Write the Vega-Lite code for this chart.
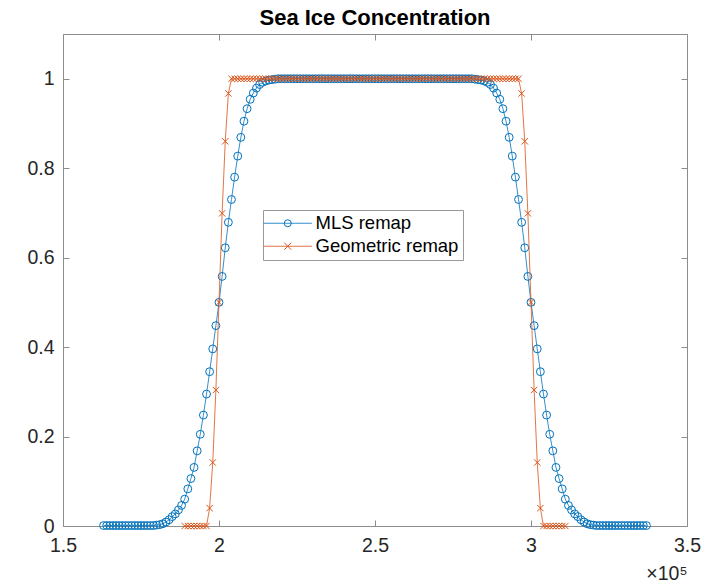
{
"$schema":"https://vega.github.io/schema/vega-lite/v6.json",
"width":624,"height":492,"autosize":"none",
"padding":{"left":63,"top":34,"right":26,"bottom":58},
"background":"white",
"config":{"view":{"stroke":"#8c8c8c","strokeWidth":1},"font":"Liberation Sans, DejaVu Sans"},
"title":{"text":"Sea Ice Concentration","fontSize":22,"fontWeight":"bold","color":"#000000","offset":4,"anchor":"middle"},
"data":{"values":[
{"x":163000,"MLS remap":0.001},{"x":164000,"MLS remap":0.001},{"x":165000,"MLS remap":0.001},{"x":166000,"MLS remap":0.001},{"x":167000,"MLS remap":0.001},{"x":168000,"MLS remap":0.001},{"x":169000,"MLS remap":0.001},{"x":170000,"MLS remap":0.001},{"x":171000,"MLS remap":0.001},{"x":172000,"MLS remap":0.001},{"x":173000,"MLS remap":0.001},{"x":174000,"MLS remap":0.001},{"x":175000,"MLS remap":0.001},{"x":176000,"MLS remap":0.001},{"x":177000,"MLS remap":0.001},{"x":178000,"MLS remap":0.001},{"x":179000,"MLS remap":0.001},
{"x":180000,"MLS remap":0.002},{"x":181000,"MLS remap":0.003},{"x":182000,"MLS remap":0.005},{"x":183000,"MLS remap":0.009},{"x":184000,"MLS remap":0.014},{"x":185000,"MLS remap":0.021},{"x":186000,"MLS remap":0.027},{"x":187000,"MLS remap":0.036},{"x":188000,"MLS remap":0.046},
{"x":189000,"MLS remap":0.06,"Geometric remap":0},{"x":190000,"MLS remap":0.083,"Geometric remap":0},{"x":191000,"MLS remap":0.106,"Geometric remap":0},{"x":192000,"MLS remap":0.131,"Geometric remap":0},{"x":193000,"MLS remap":0.168,"Geometric remap":0},{"x":194000,"MLS remap":0.205,"Geometric remap":0},{"x":195000,"MLS remap":0.248,"Geometric remap":0},{"x":196000,"MLS remap":0.295,"Geometric remap":0},
{"x":197000,"MLS remap":0.345,"Geometric remap":0.04},{"x":198000,"MLS remap":0.396,"Geometric remap":0.142},{"x":199000,"MLS remap":0.448,"Geometric remap":0.304},{"x":200000,"MLS remap":0.5,"Geometric remap":0.5},{"x":201000,"MLS remap":0.558,"Geometric remap":0.699},{"x":202000,"MLS remap":0.622,"Geometric remap":0.86},{"x":203000,"MLS remap":0.679,"Geometric remap":0.967},
{"x":204000,"MLS remap":0.73,"Geometric remap":1},{"x":205000,"MLS remap":0.78,"Geometric remap":1},{"x":206000,"MLS remap":0.827,"Geometric remap":1},{"x":207000,"MLS remap":0.869,"Geometric remap":1},{"x":208000,"MLS remap":0.905,"Geometric remap":1},{"x":209000,"MLS remap":0.933,"Geometric remap":1},{"x":210000,"MLS remap":0.954,"Geometric remap":1},{"x":211000,"MLS remap":0.968,"Geometric remap":1},{"x":212000,"MLS remap":0.979,"Geometric remap":1},{"x":213000,"MLS remap":0.987,"Geometric remap":1},{"x":214000,"MLS remap":0.992,"Geometric remap":1},{"x":215000,"MLS remap":0.995,"Geometric remap":1},{"x":216000,"MLS remap":0.997,"Geometric remap":1},{"x":217000,"MLS remap":0.998,"Geometric remap":1},{"x":218000,"MLS remap":0.999,"Geometric remap":1},
{"x":219000,"MLS remap":1,"Geometric remap":1},{"x":220000,"MLS remap":1,"Geometric remap":1},{"x":221000,"MLS remap":1,"Geometric remap":1},{"x":222000,"MLS remap":1,"Geometric remap":1},{"x":223000,"MLS remap":1,"Geometric remap":1},{"x":224000,"MLS remap":1,"Geometric remap":1},{"x":225000,"MLS remap":1,"Geometric remap":1},{"x":226000,"MLS remap":1,"Geometric remap":1},{"x":227000,"MLS remap":1,"Geometric remap":1},{"x":228000,"MLS remap":1,"Geometric remap":1},{"x":229000,"MLS remap":1,"Geometric remap":1},{"x":230000,"MLS remap":1,"Geometric remap":1},{"x":231000,"MLS remap":1,"Geometric remap":1},{"x":232000,"MLS remap":1,"Geometric remap":1},{"x":233000,"MLS remap":1,"Geometric remap":1},{"x":234000,"MLS remap":1,"Geometric remap":1},{"x":235000,"MLS remap":1,"Geometric remap":1},{"x":236000,"MLS remap":1,"Geometric remap":1},{"x":237000,"MLS remap":1,"Geometric remap":1},{"x":238000,"MLS remap":1,"Geometric remap":1},{"x":239000,"MLS remap":1,"Geometric remap":1},{"x":240000,"MLS remap":1,"Geometric remap":1},{"x":241000,"MLS remap":1,"Geometric remap":1},{"x":242000,"MLS remap":1,"Geometric remap":1},{"x":243000,"MLS remap":1,"Geometric remap":1},{"x":244000,"MLS remap":1,"Geometric remap":1},{"x":245000,"MLS remap":1,"Geometric remap":1},{"x":246000,"MLS remap":1,"Geometric remap":1},{"x":247000,"MLS remap":1,"Geometric remap":1},{"x":248000,"MLS remap":1,"Geometric remap":1},{"x":249000,"MLS remap":1,"Geometric remap":1},{"x":250000,"MLS remap":1,"Geometric remap":1},{"x":251000,"MLS remap":1,"Geometric remap":1},{"x":252000,"MLS remap":1,"Geometric remap":1},{"x":253000,"MLS remap":1,"Geometric remap":1},{"x":254000,"MLS remap":1,"Geometric remap":1},{"x":255000,"MLS remap":1,"Geometric remap":1},{"x":256000,"MLS remap":1,"Geometric remap":1},{"x":257000,"MLS remap":1,"Geometric remap":1},{"x":258000,"MLS remap":1,"Geometric remap":1},{"x":259000,"MLS remap":1,"Geometric remap":1},{"x":260000,"MLS remap":1,"Geometric remap":1},{"x":261000,"MLS remap":1,"Geometric remap":1},{"x":262000,"MLS remap":1,"Geometric remap":1},{"x":263000,"MLS remap":1,"Geometric remap":1},{"x":264000,"MLS remap":1,"Geometric remap":1},{"x":265000,"MLS remap":1,"Geometric remap":1},{"x":266000,"MLS remap":1,"Geometric remap":1},{"x":267000,"MLS remap":1,"Geometric remap":1},{"x":268000,"MLS remap":1,"Geometric remap":1},{"x":269000,"MLS remap":1,"Geometric remap":1},{"x":270000,"MLS remap":1,"Geometric remap":1},{"x":271000,"MLS remap":1,"Geometric remap":1},{"x":272000,"MLS remap":1,"Geometric remap":1},{"x":273000,"MLS remap":1,"Geometric remap":1},{"x":274000,"MLS remap":1,"Geometric remap":1},{"x":275000,"MLS remap":1,"Geometric remap":1},{"x":276000,"MLS remap":1,"Geometric remap":1},{"x":277000,"MLS remap":1,"Geometric remap":1},{"x":278000,"MLS remap":1,"Geometric remap":1},{"x":279000,"MLS remap":1,"Geometric remap":1},{"x":280000,"MLS remap":1,"Geometric remap":1},{"x":281000,"MLS remap":1,"Geometric remap":1},
{"x":282000,"MLS remap":0.999,"Geometric remap":1},{"x":283000,"MLS remap":0.998,"Geometric remap":1},{"x":284000,"MLS remap":0.997,"Geometric remap":1},{"x":285000,"MLS remap":0.995,"Geometric remap":1},{"x":286000,"MLS remap":0.992,"Geometric remap":1},{"x":287000,"MLS remap":0.987,"Geometric remap":1},{"x":288000,"MLS remap":0.979,"Geometric remap":1},{"x":289000,"MLS remap":0.968,"Geometric remap":1},{"x":290000,"MLS remap":0.954,"Geometric remap":1},{"x":291000,"MLS remap":0.933,"Geometric remap":1},{"x":292000,"MLS remap":0.905,"Geometric remap":1},{"x":293000,"MLS remap":0.869,"Geometric remap":1},{"x":294000,"MLS remap":0.827,"Geometric remap":1},{"x":295000,"MLS remap":0.78,"Geometric remap":1},{"x":296000,"MLS remap":0.73,"Geometric remap":1},
{"x":297000,"MLS remap":0.679,"Geometric remap":0.967},{"x":298000,"MLS remap":0.622,"Geometric remap":0.86},{"x":299000,"MLS remap":0.558,"Geometric remap":0.699},{"x":300000,"MLS remap":0.5,"Geometric remap":0.5},{"x":301000,"MLS remap":0.448,"Geometric remap":0.304},{"x":302000,"MLS remap":0.396,"Geometric remap":0.142},{"x":303000,"MLS remap":0.345,"Geometric remap":0.04},
{"x":304000,"MLS remap":0.295,"Geometric remap":0},{"x":305000,"MLS remap":0.248,"Geometric remap":0},{"x":306000,"MLS remap":0.205,"Geometric remap":0},{"x":307000,"MLS remap":0.168,"Geometric remap":0},{"x":308000,"MLS remap":0.131,"Geometric remap":0},{"x":309000,"MLS remap":0.106,"Geometric remap":0},{"x":310000,"MLS remap":0.083,"Geometric remap":0},{"x":311000,"MLS remap":0.06,"Geometric remap":0},
{"x":312000,"MLS remap":0.046},{"x":313000,"MLS remap":0.036},{"x":314000,"MLS remap":0.027},{"x":315000,"MLS remap":0.021},{"x":316000,"MLS remap":0.014},{"x":317000,"MLS remap":0.009},{"x":318000,"MLS remap":0.005},{"x":319000,"MLS remap":0.003},{"x":320000,"MLS remap":0.002},
{"x":321000,"MLS remap":0.001},{"x":322000,"MLS remap":0.001},{"x":323000,"MLS remap":0.001},{"x":324000,"MLS remap":0.001},{"x":325000,"MLS remap":0.001},{"x":326000,"MLS remap":0.001},{"x":327000,"MLS remap":0.001},{"x":328000,"MLS remap":0.001},{"x":329000,"MLS remap":0.001},{"x":330000,"MLS remap":0.001},{"x":331000,"MLS remap":0.001},{"x":332000,"MLS remap":0.001},{"x":333000,"MLS remap":0.001},{"x":334000,"MLS remap":0.001},{"x":335000,"MLS remap":0.001},{"x":336000,"MLS remap":0.001},{"x":337000,"MLS remap":0.001}
]},
"transform":[{"fold":["MLS remap","Geometric remap"],"as":["series","y"]},{"filter":"isValid(datum.y)"}],
"layer":[
{"transform":[{"filter":"datum.series === 'MLS remap'"}],
 "mark":{"type":"line","strokeWidth":0.8},
 "encoding":{
  "x":{"field":"x","type":"quantitative","scale":{"domain":[150000,350000],"nice":false,"zero":false},
   "axis":{"orient":"bottom","offset":-6,"domain":false,"grid":false,"values":[150000,200000,250000,300000,350000],"tickSize":6,"tickColor":"#8c8c8c","tickWidth":1,"labelExpr":"format(datum.value/100000,'~g')","labelFontSize":19.5,"labelColor":"#262626","labelPadding":10,"labelFlush":false,"labelOverlap":false,"title":"×10⁵","titleFontSize":19.5,"titleFontWeight":"normal","titleColor":"#262626","titleX":624,"titleY":59,"titleAlign":"right","titleBaseline":"alphabetic"}},
  "y":{"field":"y","type":"quantitative","scale":{"domain":[0,1.1],"nice":false,"zero":false},
   "axis":{"orient":"left","offset":-6,"domain":false,"grid":false,"values":[0,0.2,0.4,0.6,0.8,1],"tickSize":6,"tickColor":"#8c8c8c","tickWidth":1,"format":"~g","labelFontSize":19.5,"labelColor":"#262626","labelPadding":9,"labelFlush":false,"labelOverlap":false,"title":null}},
  "color":{"field":"series","type":"nominal","scale":{"domain":["MLS remap","Geometric remap"],"range":["#0072BD","#D95319"]},
   "legend":{"orient":"none","legendX":200,"legendY":176,"title":null,"strokeColor":"#999999","padding":4,"labelFontSize":18.5,"labelColor":"#000000","symbolType":"M-6.9,0H6.9","symbolSize":49,"symbolStrokeWidth":0.8,"rowPadding":4,"symbolOffset":11.5,"labelOffset":18.5}}
 }},
{"transform":[{"filter":"datum.series === 'MLS remap'"}],
 "mark":{"type":"point","filled":false,"size":62,"strokeWidth":1,"opacity":1},
 "encoding":{
  "x":{"field":"x","type":"quantitative","scale":{"domain":[150000,350000],"nice":false,"zero":false},"axis":null},
  "y":{"field":"y","type":"quantitative","scale":{"domain":[0,1.1],"nice":false,"zero":false},"axis":null},
  "color":{"field":"series","type":"nominal","scale":{"domain":["MLS remap","Geometric remap"],"range":["#0072BD","#D95319"]},
   "legend":{"orient":"none","legendX":200,"legendY":176,"title":null,"padding":4,"labelFontSize":18.5,"labelColor":"#000000","labelOpacity":0,"symbolSize":49,"symbolStrokeWidth":1,"rowPadding":4,"symbolOffset":11.5,"labelOffset":18.5}},
  "shape":{"field":"series","type":"nominal","scale":{"domain":["MLS remap","Geometric remap"],"range":["circle","M-1,-1L1,1M-1,1L1,-1"]},
   "legend":{"orient":"none","legendX":200,"legendY":176,"title":null,"padding":4,"labelFontSize":18.5,"labelColor":"#000000","labelOpacity":0,"symbolSize":49,"symbolStrokeWidth":1,"rowPadding":4,"symbolOffset":11.5,"labelOffset":18.5}}
 }},
{"transform":[{"filter":"datum.series === 'Geometric remap'"}],
 "mark":{"type":"line","strokeWidth":0.8},
 "encoding":{
  "x":{"field":"x","type":"quantitative","scale":{"domain":[150000,350000],"nice":false,"zero":false},"axis":null},
  "y":{"field":"y","type":"quantitative","scale":{"domain":[0,1.1],"nice":false,"zero":false},"axis":null},
  "color":{"field":"series","type":"nominal","scale":{"domain":["MLS remap","Geometric remap"],"range":["#0072BD","#D95319"]},"legend":null}
 }},
{"transform":[{"filter":"datum.series === 'Geometric remap'"}],
 "mark":{"type":"point","filled":false,"size":40,"strokeWidth":1,"opacity":1},
 "encoding":{
  "x":{"field":"x","type":"quantitative","scale":{"domain":[150000,350000],"nice":false,"zero":false},
   "axis":{"orient":"top","offset":-6,"domain":false,"grid":false,"values":[150000,200000,250000,300000,350000],"tickSize":6,"tickColor":"#8c8c8c","tickWidth":1,"labels":false,"title":null}},
  "y":{"field":"y","type":"quantitative","scale":{"domain":[0,1.1],"nice":false,"zero":false},
   "axis":{"orient":"right","offset":-6,"domain":false,"grid":false,"values":[0,0.2,0.4,0.6,0.8,1],"tickSize":6,"tickColor":"#8c8c8c","tickWidth":1,"labels":false,"title":null}},
  "color":{"field":"series","type":"nominal","scale":{"domain":["MLS remap","Geometric remap"],"range":["#0072BD","#D95319"]},"legend":null},
  "shape":{"field":"series","type":"nominal","scale":{"domain":["MLS remap","Geometric remap"],"range":["circle","M-1,-1L1,1M-1,1L1,-1"]},"legend":null}
 }}
],
"resolve":{"axis":{"x":"independent","y":"independent"},"legend":{"color":"independent","shape":"independent"}}
}
